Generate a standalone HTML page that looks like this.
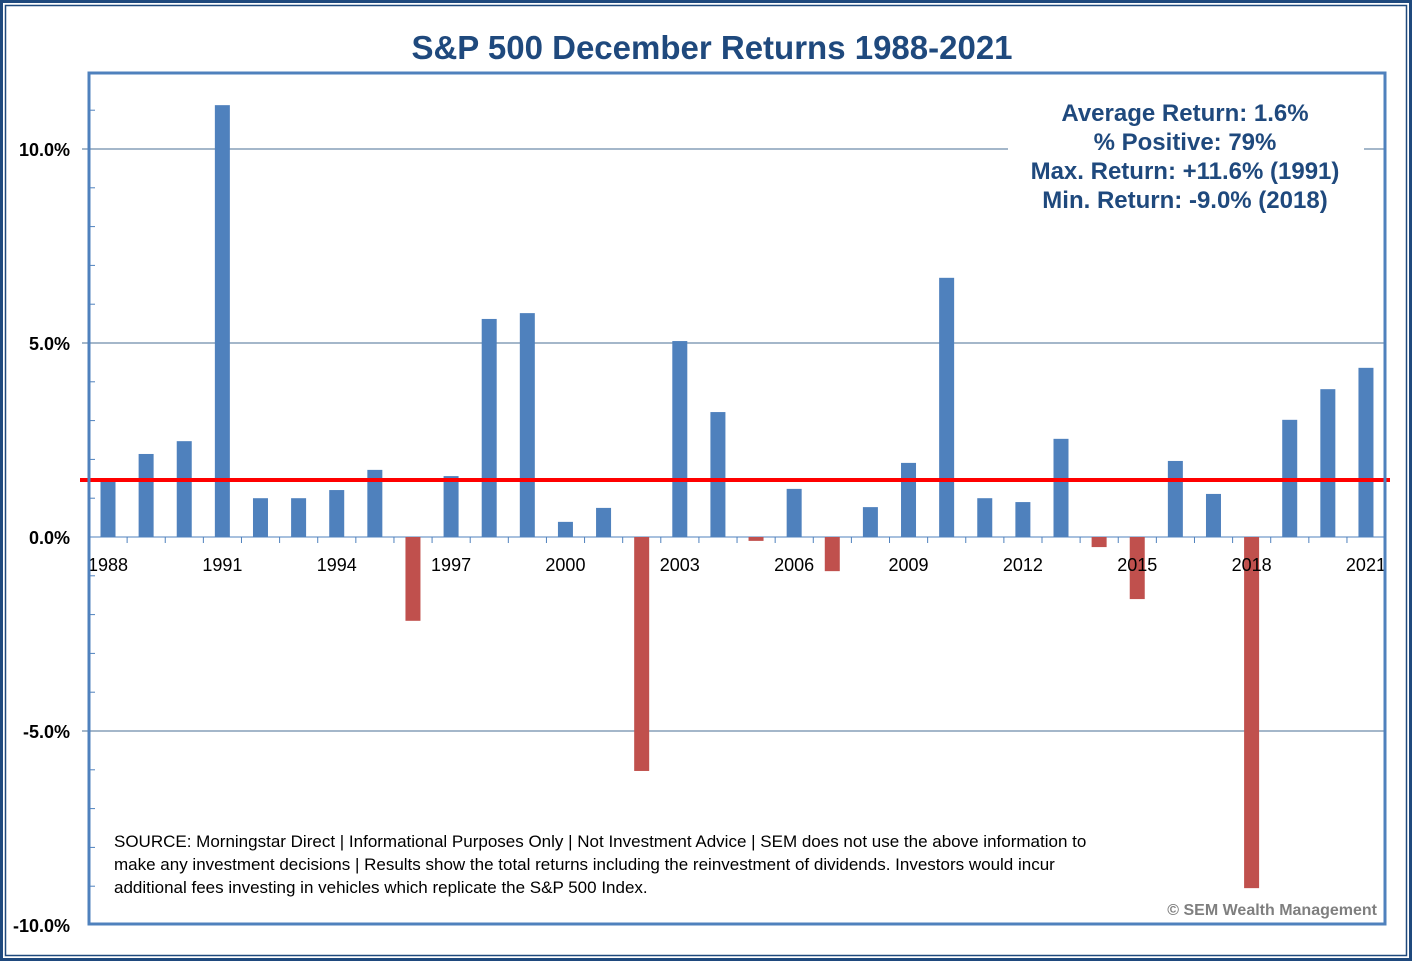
<!DOCTYPE html>
<html><head><meta charset="utf-8"><style>
body{margin:0;background:#fff;}
svg{display:block;font-family:"Liberation Sans",sans-serif;}
</style></head><body>
<svg id="chart" width="1412" height="961">
<rect x="1.5" y="1.5" width="1409" height="958" fill="none" stroke="#1f497d" stroke-width="3"/>
<rect x="5.5" y="5.5" width="1401" height="950" fill="none" stroke="#1f497d" stroke-width="1.5"/>
<text x="712" y="59" text-anchor="middle" font-size="33" font-weight="bold" fill="#1f497d">S&amp;P 500 December Returns 1988-2021</text>
<g id="grid"></g>
<g id="bars"></g>
<g id="xlabels"></g>
<g id="ylabels"></g>
<rect x="1008" y="92" width="356" height="128" fill="#fff"/>
<g font-size="24" font-weight="bold" fill="#1f497d" text-anchor="middle" style="white-space:pre">
<text x="1185" y="121">Average Return:  1.6%</text>
<text x="1185" y="150">%  Positive: 79%</text>
<text x="1185" y="179">Max. Return:  +11.6%  (1991)</text>
<text x="1185" y="208">Min. Return:  -9.0%  (2018)</text>
</g>
<g font-size="17" fill="#000">
<text x="114" y="847">SOURCE: Morningstar Direct | Informational Purposes Only | Not Investment Advice | SEM does not use the above information to</text>
<text x="114" y="870">make any investment decisions | Results show the total returns including the reinvestment of dividends. Investors would incur</text>
<text x="114" y="893">additional fees investing in vehicles which replicate the S&amp;P 500 Index.</text>
</g>
<text x="1377" y="915" text-anchor="end" font-size="16" font-weight="bold" fill="#7f7f7f">© SEM Wealth Management</text>
<rect x="89" y="73" width="1296" height="851" fill="none" stroke="#4f81bd" stroke-width="3"/>
</svg>
<script>
const years=[1988,1989,1990,1991,1992,1993,1994,1995,1996,1997,1998,1999,2000,2001,2002,2003,2004,2005,2006,2007,2008,2009,2010,2011,2012,2013,2014,2015,2016,2017,2018,2019,2020,2021];
const returns=[1.47,2.14,2.47,11.13,1.0,1.0,1.21,1.73,-2.16,1.57,5.62,5.77,0.39,0.75,-6.03,5.05,3.22,-0.1,1.24,-0.88,0.77,1.91,6.68,1.0,0.9,2.53,-0.26,-1.6,1.96,1.11,-9.05,3.02,3.81,4.36];
const yTicks=[10,5,0,-5,-10];
const yTickLabels=["10.0%","5.0%","0.0%","-5.0%","-10.0%"];
const avgReturn=1.47;
const NS="http://www.w3.org/2000/svg";
const y=v=>537-v*38.8;
const x=i=>108+i*38.12;
function mk(t,a,p){const e=document.createElementNS(NS,t);for(const k in a)e.setAttribute(k,a[k]);p.appendChild(e);return e;}
const grid=document.getElementById('grid'),bars=document.getElementById('bars'),xl=document.getElementById('xlabels'),yl=document.getElementById('ylabels');
for(let v=-10;v<=11;v++){
  const t=mk('line',{x1:89,x2:95,y1:y(v),y2:y(v),stroke:'#4f81bd','stroke-width':1},grid);
  
  
}
yTicks.forEach((v,i)=>{
  if(v!==0&&v!==-10){const g=mk('line',{x1:82,x2:1385,y1:y(v),y2:y(v),stroke:'#4a6f96','stroke-width':1},grid);
  
  }
  const t=mk('text',{x:70,y:y(v)+7,'text-anchor':'end','font-size':18,'font-weight':'bold',fill:'#000'},yl);
  t.textContent=yTickLabels[i];
  
  
});
const zl=mk('line',{x1:89,x2:1385,y1:y(0),y2:y(0),stroke:'#4f81bd','stroke-width':1},grid);


returns.forEach((v,i)=>{
  const top=Math.min(y(v),y(0)),h=Math.abs(y(v)-y(0));
  const r=mk('rect',{x:x(i)-7.5,y:top,width:15,height:h,fill:v>=0?'#4f81bd':'#c0504d'},bars);
  
  
  const tk=mk('line',{x1:x(i)-19,x2:x(i)-19,y1:y(0),y2:y(0)+6,stroke:'#4f81bd'},grid);
  
  
  if(i%3===0){
    const t=mk('text',{x:x(i),y:571,'text-anchor':'middle','font-size':18,fill:'#000'},xl);
    t.textContent=years[i];
    
    
  }
});
const al=mk('line',{x1:80,x2:1390,y1:y(avgReturn),y2:y(avgReturn),stroke:'#ff0000','stroke-width':4},bars);


</script>
</body></html>
